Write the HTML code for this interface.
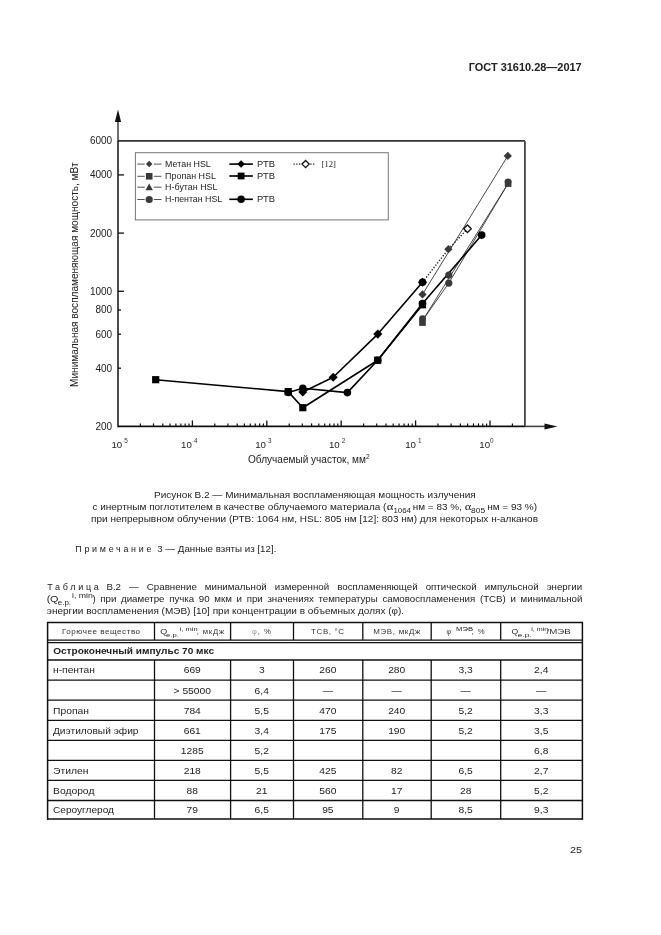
<!DOCTYPE html>
<html><head><meta charset="utf-8"><style>
html,body{margin:0;padding:0;background:#fff;}
body{width:661px;height:935px;overflow:hidden;}
svg{display:block;font-family:"Liberation Sans",sans-serif;filter:grayscale(1);}
</style></head><body>
<svg width="661" height="935" viewBox="0 0 661 935">
<rect width="661" height="935" fill="#fff"/>
<text x="468.70" y="71.20" font-size="10.4" font-weight="bold" fill="#222" textLength="113.00" lengthAdjust="spacingAndGlyphs">ГОСТ 31610.28—2017</text>
<line x1="118.00" y1="140.90" x2="524.90" y2="140.90" stroke="#333" stroke-width="1.8"/>
<line x1="524.90" y1="140.90" x2="524.90" y2="426.40" stroke="#444" stroke-width="1.8"/>
<line x1="118.00" y1="426.40" x2="524.90" y2="426.40" stroke="#111" stroke-width="1.8"/>
<line x1="524.90" y1="426.40" x2="546.00" y2="426.40" stroke="#444" stroke-width="1.6"/>
<polygon points="544.5,423.4 557.5,426.4 544.5,429.6" fill="#111"/>
<line x1="118.00" y1="140.90" x2="118.00" y2="427.20" stroke="#111" stroke-width="1.5"/>
<line x1="118.00" y1="140.90" x2="118.00" y2="121.00" stroke="#222" stroke-width="1.3"/>
<polygon points="114.9,122.0 118,109.4 121.1,122.0" fill="#111"/>
<line x1="140.40" y1="426.40" x2="140.40" y2="423.40" stroke="#111" stroke-width="1.2"/>
<line x1="153.50" y1="426.40" x2="153.50" y2="423.40" stroke="#111" stroke-width="1.2"/>
<line x1="162.79" y1="426.40" x2="162.79" y2="423.40" stroke="#111" stroke-width="1.2"/>
<line x1="170.00" y1="426.40" x2="170.00" y2="423.40" stroke="#111" stroke-width="1.2"/>
<line x1="175.89" y1="426.40" x2="175.89" y2="423.40" stroke="#111" stroke-width="1.2"/>
<line x1="180.88" y1="426.40" x2="180.88" y2="423.40" stroke="#111" stroke-width="1.2"/>
<line x1="185.19" y1="426.40" x2="185.19" y2="423.40" stroke="#111" stroke-width="1.2"/>
<line x1="189.00" y1="426.40" x2="189.00" y2="423.40" stroke="#111" stroke-width="1.2"/>
<line x1="192.40" y1="426.40" x2="192.40" y2="420.40" stroke="#111" stroke-width="1.3"/>
<line x1="214.80" y1="426.40" x2="214.80" y2="423.40" stroke="#111" stroke-width="1.2"/>
<line x1="227.90" y1="426.40" x2="227.90" y2="423.40" stroke="#111" stroke-width="1.2"/>
<line x1="237.19" y1="426.40" x2="237.19" y2="423.40" stroke="#111" stroke-width="1.2"/>
<line x1="244.40" y1="426.40" x2="244.40" y2="423.40" stroke="#111" stroke-width="1.2"/>
<line x1="250.29" y1="426.40" x2="250.29" y2="423.40" stroke="#111" stroke-width="1.2"/>
<line x1="255.28" y1="426.40" x2="255.28" y2="423.40" stroke="#111" stroke-width="1.2"/>
<line x1="259.59" y1="426.40" x2="259.59" y2="423.40" stroke="#111" stroke-width="1.2"/>
<line x1="263.40" y1="426.40" x2="263.40" y2="423.40" stroke="#111" stroke-width="1.2"/>
<line x1="266.80" y1="426.40" x2="266.80" y2="420.40" stroke="#111" stroke-width="1.3"/>
<line x1="289.20" y1="426.40" x2="289.20" y2="423.40" stroke="#111" stroke-width="1.2"/>
<line x1="302.30" y1="426.40" x2="302.30" y2="423.40" stroke="#111" stroke-width="1.2"/>
<line x1="311.59" y1="426.40" x2="311.59" y2="423.40" stroke="#111" stroke-width="1.2"/>
<line x1="318.80" y1="426.40" x2="318.80" y2="423.40" stroke="#111" stroke-width="1.2"/>
<line x1="324.69" y1="426.40" x2="324.69" y2="423.40" stroke="#111" stroke-width="1.2"/>
<line x1="329.68" y1="426.40" x2="329.68" y2="423.40" stroke="#111" stroke-width="1.2"/>
<line x1="333.99" y1="426.40" x2="333.99" y2="423.40" stroke="#111" stroke-width="1.2"/>
<line x1="337.80" y1="426.40" x2="337.80" y2="423.40" stroke="#111" stroke-width="1.2"/>
<line x1="341.20" y1="426.40" x2="341.20" y2="420.40" stroke="#111" stroke-width="1.3"/>
<line x1="363.60" y1="426.40" x2="363.60" y2="423.40" stroke="#111" stroke-width="1.2"/>
<line x1="376.70" y1="426.40" x2="376.70" y2="423.40" stroke="#111" stroke-width="1.2"/>
<line x1="385.99" y1="426.40" x2="385.99" y2="423.40" stroke="#111" stroke-width="1.2"/>
<line x1="393.20" y1="426.40" x2="393.20" y2="423.40" stroke="#111" stroke-width="1.2"/>
<line x1="399.09" y1="426.40" x2="399.09" y2="423.40" stroke="#111" stroke-width="1.2"/>
<line x1="404.08" y1="426.40" x2="404.08" y2="423.40" stroke="#111" stroke-width="1.2"/>
<line x1="408.39" y1="426.40" x2="408.39" y2="423.40" stroke="#111" stroke-width="1.2"/>
<line x1="412.20" y1="426.40" x2="412.20" y2="423.40" stroke="#111" stroke-width="1.2"/>
<line x1="415.60" y1="426.40" x2="415.60" y2="420.40" stroke="#111" stroke-width="1.3"/>
<line x1="438.00" y1="426.40" x2="438.00" y2="423.40" stroke="#111" stroke-width="1.2"/>
<line x1="451.10" y1="426.40" x2="451.10" y2="423.40" stroke="#111" stroke-width="1.2"/>
<line x1="460.39" y1="426.40" x2="460.39" y2="423.40" stroke="#111" stroke-width="1.2"/>
<line x1="467.60" y1="426.40" x2="467.60" y2="423.40" stroke="#111" stroke-width="1.2"/>
<line x1="473.49" y1="426.40" x2="473.49" y2="423.40" stroke="#111" stroke-width="1.2"/>
<line x1="478.48" y1="426.40" x2="478.48" y2="423.40" stroke="#111" stroke-width="1.2"/>
<line x1="482.79" y1="426.40" x2="482.79" y2="423.40" stroke="#111" stroke-width="1.2"/>
<line x1="486.60" y1="426.40" x2="486.60" y2="423.40" stroke="#111" stroke-width="1.2"/>
<line x1="490.00" y1="426.40" x2="490.00" y2="420.40" stroke="#111" stroke-width="1.3"/>
<line x1="512.40" y1="426.40" x2="512.40" y2="423.40" stroke="#111" stroke-width="1.2"/>
<line x1="118.00" y1="368.21" x2="121.00" y2="368.21" stroke="#111" stroke-width="1.3"/>
<line x1="118.00" y1="334.17" x2="121.00" y2="334.17" stroke="#111" stroke-width="1.3"/>
<line x1="118.00" y1="310.02" x2="121.00" y2="310.02" stroke="#111" stroke-width="1.3"/>
<line x1="118.00" y1="291.29" x2="124.00" y2="291.29" stroke="#111" stroke-width="1.3"/>
<line x1="118.00" y1="233.10" x2="124.00" y2="233.10" stroke="#111" stroke-width="1.3"/>
<line x1="118.00" y1="174.91" x2="124.00" y2="174.91" stroke="#111" stroke-width="1.3"/>
<text x="112.20" y="429.85" font-size="10" text-anchor="end" fill="#222">200</text>
<text x="112.20" y="371.66" font-size="10" text-anchor="end" fill="#222">400</text>
<text x="112.20" y="337.62" font-size="10" text-anchor="end" fill="#222">600</text>
<text x="112.20" y="313.47" font-size="10" text-anchor="end" fill="#222">800</text>
<text x="112.20" y="294.74" font-size="10" text-anchor="end" fill="#222">1000</text>
<text x="112.20" y="236.55" font-size="10" text-anchor="end" fill="#222">2000</text>
<text x="112.20" y="178.36" font-size="10" text-anchor="end" fill="#222">4000</text>
<text x="112.20" y="144.32" font-size="10" text-anchor="end" fill="#222">6000</text>
<text x="111.40" y="447.9" font-size="9.7" fill="#222">10<tspan font-size="6.4" dy="-4.9" fill="#333"><tspan fill="#bbb">-</tspan>5</tspan></text>
<text x="181.10" y="447.9" font-size="9.7" fill="#222">10<tspan font-size="6.4" dy="-4.9" fill="#333"><tspan fill="#bbb">-</tspan>4</tspan></text>
<text x="255.20" y="447.9" font-size="9.7" fill="#222">10<tspan font-size="6.4" dy="-4.9" fill="#333"><tspan fill="#bbb">-</tspan>3</tspan></text>
<text x="328.90" y="447.9" font-size="9.7" fill="#222">10<tspan font-size="6.4" dy="-4.9" fill="#333"><tspan fill="#bbb">-</tspan>2</tspan></text>
<text x="405.20" y="447.9" font-size="9.7" fill="#222">10<tspan font-size="6.4" dy="-4.9" fill="#333"><tspan fill="#bbb">-</tspan>1</tspan></text>
<text x="479.30" y="447.9" font-size="9.7" fill="#222">10<tspan font-size="6.4" dy="-4.9" fill="#333">0</tspan></text>
<text x="248.00" y="463.40" font-size="10.2" fill="#222" textLength="117.90" lengthAdjust="spacingAndGlyphs">Облучаемый участок, мм</text>
<text x="365.9" y="458.6" font-size="6.6" fill="#222">2</text>
<text transform="translate(78.3,386.9) rotate(-90)" x="0" y="0" font-size="10.1" fill="#222" textLength="224.4" lengthAdjust="spacingAndGlyphs">Минимальная воспламеняющая мощность, мВт</text>
<rect x="135.4" y="152.7" width="252.9" height="67.2" fill="none" stroke="#777" stroke-width="1"/>
<line x1="137.30" y1="164.10" x2="144.70" y2="164.10" stroke="#555" stroke-width="1.0"/>
<line x1="153.80" y1="164.10" x2="161.50" y2="164.10" stroke="#555" stroke-width="1.0"/>
<polygon points="149.20,160.85 152.45,164.10 149.20,167.35 145.95,164.10" fill="#3a3a3a"/>
<text x="165.10" y="166.90" font-size="8.5" fill="#222" textLength="45.70" lengthAdjust="spacingAndGlyphs">Метан HSL</text>
<line x1="137.30" y1="176.30" x2="144.70" y2="176.30" stroke="#555" stroke-width="1.0"/>
<line x1="153.80" y1="176.30" x2="161.50" y2="176.30" stroke="#555" stroke-width="1.0"/>
<rect x="145.90" y="173.00" width="6.60" height="6.60" fill="#3a3a3a"/>
<text x="165.10" y="179.10" font-size="8.5" fill="#222" textLength="50.80" lengthAdjust="spacingAndGlyphs">Пропан HSL</text>
<line x1="137.30" y1="187.20" x2="144.70" y2="187.20" stroke="#555" stroke-width="1.0"/>
<line x1="153.80" y1="187.20" x2="161.50" y2="187.20" stroke="#555" stroke-width="1.0"/>
<polygon points="149.20,183.48 152.92,190.18 145.48,190.18" fill="#3a3a3a"/>
<text x="165.10" y="190.00" font-size="8.5" fill="#222" textLength="52.40" lengthAdjust="spacingAndGlyphs">Н-бутан HSL</text>
<line x1="137.30" y1="199.50" x2="144.70" y2="199.50" stroke="#555" stroke-width="1.0"/>
<line x1="153.80" y1="199.50" x2="161.50" y2="199.50" stroke="#555" stroke-width="1.0"/>
<circle cx="149.20" cy="199.50" r="3.60" fill="#3a3a3a"/>
<text x="165.10" y="202.30" font-size="8.5" fill="#222" textLength="57.10" lengthAdjust="spacingAndGlyphs">Н-пентан HSL</text>
<line x1="229.30" y1="164.10" x2="236.60" y2="164.10" stroke="#000" stroke-width="1.6"/>
<line x1="245.60" y1="164.10" x2="252.90" y2="164.10" stroke="#000" stroke-width="1.6"/>
<line x1="236.00" y1="164.10" x2="246.00" y2="164.10" stroke="#000" stroke-width="1.6"/>
<polygon points="241.10,160.33 244.87,164.10 241.10,167.87 237.33,164.10" fill="#000"/>
<text x="257.10" y="167.00" font-size="8.5" fill="#222" textLength="17.80" lengthAdjust="spacingAndGlyphs">РТВ</text>
<line x1="229.30" y1="176.00" x2="236.60" y2="176.00" stroke="#000" stroke-width="1.6"/>
<line x1="245.60" y1="176.00" x2="252.90" y2="176.00" stroke="#000" stroke-width="1.6"/>
<line x1="236.00" y1="176.00" x2="246.00" y2="176.00" stroke="#000" stroke-width="1.6"/>
<rect x="237.70" y="172.60" width="6.80" height="6.80" fill="#000"/>
<text x="257.10" y="178.90" font-size="8.5" fill="#222" textLength="17.80" lengthAdjust="spacingAndGlyphs">РТВ</text>
<line x1="229.30" y1="199.30" x2="236.60" y2="199.30" stroke="#000" stroke-width="1.6"/>
<line x1="245.60" y1="199.30" x2="252.90" y2="199.30" stroke="#000" stroke-width="1.6"/>
<line x1="236.00" y1="199.30" x2="246.00" y2="199.30" stroke="#000" stroke-width="1.6"/>
<circle cx="241.10" cy="199.30" r="3.80" fill="#000"/>
<text x="257.10" y="202.20" font-size="8.5" fill="#222" textLength="17.80" lengthAdjust="spacingAndGlyphs">РТВ</text>
<line x1="293.50" y1="164.10" x2="315.90" y2="164.10" stroke="#111" stroke-width="1.2" stroke-dasharray="1.2,1.6"/>
<polygon points="305.60,160.53 309.18,164.10 305.60,167.67 302.03,164.10" fill="#fff" stroke="#111" stroke-width="1.3"/>
<text x="321.60" y="167.30" font-size="9.2" font-family="Liberation Serif" fill="#222" textLength="14.30" lengthAdjust="spacingAndGlyphs">[12]</text>
<polyline points="422.50,294.40 507.80,155.90" fill="none" stroke="#333" stroke-width="0.9" stroke-linejoin="round"/>
<polyline points="422.50,320.50 508.10,183.50" fill="none" stroke="#333" stroke-width="0.9" stroke-linejoin="round"/>
<polyline points="422.50,320.50 448.80,283.10 508.10,183.50" fill="none" stroke="#333" stroke-width="0.9" stroke-linejoin="round"/>
<polyline points="422.50,282.20 448.40,249.20 467.50,228.80" fill="none" stroke="#111" stroke-width="1.3" stroke-linejoin="round" stroke-dasharray="1.3,1.7"/>
<polyline points="155.70,379.70 288.20,391.60 302.80,407.70 377.70,360.20 422.50,304.80" fill="none" stroke="#000" stroke-width="1.6" stroke-linejoin="round"/>
<polyline points="288.20,392.50 302.80,388.20 347.40,392.60 377.70,360.20 422.50,303.50 481.70,235.10" fill="none" stroke="#000" stroke-width="1.6" stroke-linejoin="round"/>
<polyline points="302.80,392.00 333.20,377.30 377.80,334.10 422.50,282.20" fill="none" stroke="#000" stroke-width="1.6" stroke-linejoin="round"/>
<polygon points="422.50,290.24 426.66,294.40 422.50,298.56 418.34,294.40" fill="#3a3a3a"/>
<polygon points="448.40,245.04 452.56,249.20 448.40,253.36 444.24,249.20" fill="#3a3a3a"/>
<polygon points="507.80,151.74 511.96,155.90 507.80,160.06 503.64,155.90" fill="#3a3a3a"/>
<circle cx="422.50" cy="318.60" r="3.40" fill="#3a3a3a"/>
<rect x="419.20" y="319.30" width="6.60" height="6.60" fill="#3a3a3a"/>
<circle cx="448.80" cy="275.10" r="3.60" fill="#3a3a3a"/>
<circle cx="448.80" cy="283.10" r="3.60" fill="#3a3a3a"/>
<circle cx="508.10" cy="181.80" r="3.40" fill="#3a3a3a"/>
<rect x="504.80" y="180.30" width="6.60" height="6.60" fill="#3a3a3a"/>
<rect x="152.10" y="376.10" width="7.20" height="7.20" fill="#000"/>
<rect x="284.60" y="388.00" width="7.20" height="7.20" fill="#000"/>
<rect x="299.20" y="404.10" width="7.20" height="7.20" fill="#000"/>
<rect x="374.10" y="356.60" width="7.20" height="7.20" fill="#000"/>
<rect x="418.90" y="301.20" width="7.20" height="7.20" fill="#000"/>
<circle cx="288.20" cy="392.50" r="3.80" fill="#000"/>
<circle cx="302.80" cy="388.20" r="3.80" fill="#000"/>
<circle cx="347.40" cy="392.60" r="3.80" fill="#000"/>
<circle cx="377.70" cy="360.20" r="3.80" fill="#000"/>
<circle cx="422.50" cy="303.50" r="3.80" fill="#000"/>
<circle cx="481.70" cy="235.10" r="3.80" fill="#000"/>
<polygon points="302.80,387.45 307.35,392.00 302.80,396.55 298.25,392.00" fill="#000"/>
<polygon points="333.20,372.75 337.75,377.30 333.20,381.85 328.65,377.30" fill="#000"/>
<polygon points="377.80,329.55 382.35,334.10 377.80,338.65 373.25,334.10" fill="#000"/>
<polygon points="422.50,277.65 427.05,282.20 422.50,286.75 417.95,282.20" fill="#000"/>
<polygon points="467.50,225.03 471.27,228.80 467.50,232.57 463.73,228.80" fill="#fff" stroke="#111" stroke-width="1.3"/>
<circle cx="422.50" cy="282.20" r="3.80" fill="#000"/>
<text x="154.10" y="498.00" font-size="9.2" fill="#222" textLength="321.70" lengthAdjust="spacingAndGlyphs">Рисунок В.2 — Минимальная воспламеняющая мощность излучения</text>
<text x="92.40" y="509.90" font-size="9.2" fill="#222" textLength="294.00" lengthAdjust="spacingAndGlyphs">с инертным поглотителем в качестве облучаемого материала (</text>
<text x="386.80" y="510.00" font-size="10.4" font-family="Liberation Serif" fill="#222" textLength="6.70" lengthAdjust="spacingAndGlyphs">α</text>
<text x="393.50" y="512.60" font-size="7.2" fill="#222" textLength="17.50" lengthAdjust="spacingAndGlyphs">1064</text>
<text x="412.80" y="509.90" font-size="9.2" fill="#222" textLength="49.00" lengthAdjust="spacingAndGlyphs">нм = 83 %,</text>
<text x="464.80" y="510.00" font-size="10.4" font-family="Liberation Serif" fill="#222" textLength="6.60" lengthAdjust="spacingAndGlyphs">α</text>
<text x="471.00" y="512.60" font-size="7.2" fill="#222" textLength="14.10" lengthAdjust="spacingAndGlyphs">805</text>
<text x="487.20" y="509.90" font-size="9.2" fill="#222" textLength="49.90" lengthAdjust="spacingAndGlyphs">нм = 93 %)</text>
<text x="91.10" y="521.60" font-size="9.2" fill="#222" textLength="446.90" lengthAdjust="spacingAndGlyphs">при непрерывном облучении (РТВ: 1064 нм, HSL: 805 нм [12]: 803 нм) для некоторых н-алканов</text>
<text x="75.30" y="551.60" font-size="8.9" fill="#222" textLength="76.10" lengthAdjust="spacing">Примечание</text>
<text x="157.20" y="551.60" font-size="8.9" fill="#222" textLength="119.20" lengthAdjust="spacingAndGlyphs">3 — Данные взяты из [12].</text>
<text x="47.20" y="589.80" font-size="9.0" fill="#222" textLength="51.60" lengthAdjust="spacing">Таблица</text>
<text transform="translate(106.40,589.80) scale(1.08,1)" font-size="9.0" fill="#222" word-spacing="4.987">В.2 — Сравнение минимальной измеренной воспламеняющей оптической импульсной энергии</text>
<text x="46.80" y="601.80" font-size="9.0" fill="#222" textLength="3.60" lengthAdjust="spacingAndGlyphs">(</text>
<text x="50.00" y="601.80" font-size="9.0" fill="#222" textLength="8.40" lengthAdjust="spacingAndGlyphs">Q</text>
<text x="57.70" y="605.00" font-size="6.4" fill="#222" textLength="13.40" lengthAdjust="spacingAndGlyphs">e.p.</text>
<text x="72.10" y="597.60" font-size="6.4" fill="#222" textLength="20.80" lengthAdjust="spacingAndGlyphs">i, min</text>
<text transform="translate(92.40,601.80) scale(1.08,1)" font-size="9.0" fill="#222" word-spacing="1.807">) при диаметре пучка 90 мкм и при значениях температуры самовоспламенения (ТСВ) и минимальной</text>
<text x="46.80" y="613.80" font-size="9.0" fill="#222" textLength="357.30" lengthAdjust="spacingAndGlyphs">энергии воспламенения (МЭВ) [10] при концентрации в объемных долях (φ).</text>
<line x1="47.60" y1="622.60" x2="582.40" y2="622.60" stroke="#111" stroke-width="1.5"/>
<line x1="47.60" y1="621.85" x2="47.60" y2="819.85" stroke="#111" stroke-width="1.5"/>
<line x1="582.40" y1="621.85" x2="582.40" y2="819.85" stroke="#111" stroke-width="1.5"/>
<line x1="47.60" y1="819.10" x2="582.40" y2="819.10" stroke="#111" stroke-width="1.5"/>
<line x1="47.60" y1="640.10" x2="582.40" y2="640.10" stroke="#111" stroke-width="1.3"/>
<line x1="47.60" y1="642.60" x2="582.40" y2="642.60" stroke="#111" stroke-width="1.3"/>
<line x1="154.50" y1="622.60" x2="154.50" y2="640.10" stroke="#111" stroke-width="1.3"/>
<line x1="230.60" y1="622.60" x2="230.60" y2="640.10" stroke="#111" stroke-width="1.3"/>
<line x1="293.50" y1="622.60" x2="293.50" y2="640.10" stroke="#111" stroke-width="1.3"/>
<line x1="362.80" y1="622.60" x2="362.80" y2="640.10" stroke="#111" stroke-width="1.3"/>
<line x1="431.20" y1="622.60" x2="431.20" y2="640.10" stroke="#111" stroke-width="1.3"/>
<line x1="500.70" y1="622.60" x2="500.70" y2="640.10" stroke="#111" stroke-width="1.3"/>
<line x1="47.60" y1="660.00" x2="582.40" y2="660.00" stroke="#111" stroke-width="1.3"/>
<line x1="47.60" y1="680.10" x2="582.40" y2="680.10" stroke="#111" stroke-width="1.3"/>
<line x1="47.60" y1="700.20" x2="582.40" y2="700.20" stroke="#111" stroke-width="1.3"/>
<line x1="47.60" y1="720.30" x2="582.40" y2="720.30" stroke="#111" stroke-width="1.3"/>
<line x1="47.60" y1="740.30" x2="582.40" y2="740.30" stroke="#111" stroke-width="1.3"/>
<line x1="47.60" y1="760.30" x2="582.40" y2="760.30" stroke="#111" stroke-width="1.3"/>
<line x1="47.60" y1="780.40" x2="582.40" y2="780.40" stroke="#111" stroke-width="1.3"/>
<line x1="47.60" y1="800.50" x2="582.40" y2="800.50" stroke="#111" stroke-width="1.3"/>
<line x1="154.50" y1="660.00" x2="154.50" y2="819.10" stroke="#111" stroke-width="1.3"/>
<line x1="230.60" y1="660.00" x2="230.60" y2="819.10" stroke="#111" stroke-width="1.3"/>
<line x1="293.50" y1="660.00" x2="293.50" y2="819.10" stroke="#111" stroke-width="1.3"/>
<line x1="362.80" y1="660.00" x2="362.80" y2="819.10" stroke="#111" stroke-width="1.3"/>
<line x1="431.20" y1="660.00" x2="431.20" y2="819.10" stroke="#111" stroke-width="1.3"/>
<line x1="500.70" y1="660.00" x2="500.70" y2="819.10" stroke="#111" stroke-width="1.3"/>
<text transform="translate(61.90,633.80) scale(1.12,1)" font-size="7.2" fill="#333" textLength="69.82" lengthAdjust="spacing">Горючее вещество</text>
<text x="160.20" y="633.60" font-size="7.0" fill="#222" textLength="7.00" lengthAdjust="spacingAndGlyphs">Q</text>
<text x="166.00" y="636.60" font-size="5.4" fill="#222" textLength="12.80" lengthAdjust="spacingAndGlyphs">e.p.</text>
<text x="179.60" y="630.70" font-size="5.4" fill="#222" textLength="18.00" lengthAdjust="spacingAndGlyphs">i, min</text>
<text transform="translate(196.80,633.60) scale(1.1,1)" font-size="7.0" fill="#333" textLength="24.91" lengthAdjust="spacing">, мкДж</text>
<text x="251.90" y="633.80" font-size="7.0" fill="#999" textLength="4.80" lengthAdjust="spacingAndGlyphs">φ</text>
<text transform="translate(257.80,633.80) scale(1.1,1)" font-size="7.0" fill="#333" textLength="11.82" lengthAdjust="spacing">, %</text>
<text transform="translate(311.10,633.60) scale(1.1,1)" font-size="7.2" fill="#333" textLength="29.91" lengthAdjust="spacing">ТСВ, °С</text>
<text transform="translate(373.20,633.60) scale(1.1,1)" font-size="7.2" fill="#333" textLength="42.82" lengthAdjust="spacing">МЭВ, мкДж</text>
<text x="446.60" y="633.60" font-size="7.0" fill="#444" textLength="7.40" lengthAdjust="spacing">φ</text>
<text x="456.10" y="630.60" font-size="6.0" fill="#222" textLength="16.90" lengthAdjust="spacingAndGlyphs">МЭВ</text>
<text transform="translate(471.60,633.80) scale(1.1,1)" font-size="7.0" fill="#333" textLength="11.91" lengthAdjust="spacing">, %</text>
<text x="511.60" y="633.50" font-size="7.0" fill="#222" textLength="6.70" lengthAdjust="spacingAndGlyphs">Q</text>
<text x="517.70" y="636.80" font-size="5.4" fill="#222" textLength="14.10" lengthAdjust="spacingAndGlyphs">e.p.</text>
<text x="531.20" y="630.50" font-size="5.4" fill="#222" textLength="17.10" lengthAdjust="spacingAndGlyphs">i, min</text>
<text x="546.60" y="633.60" font-size="7.6" fill="#333" textLength="24.20" lengthAdjust="spacingAndGlyphs">/МЭВ</text>
<text x="53.20" y="654.30" font-size="9.0" font-weight="bold" fill="#222" textLength="160.80" lengthAdjust="spacingAndGlyphs">Остроконечный импульс 70 мкс</text>
<text x="53.00" y="673.40" font-size="9.2" fill="#222" textLength="42.00" lengthAdjust="spacingAndGlyphs">н-пентан</text>
<text transform="translate(192.25,673.40) scale(1.06,1)" text-anchor="middle" font-size="9.7" fill="#222">669</text>
<text transform="translate(261.75,673.40) scale(1.06,1)" text-anchor="middle" font-size="9.7" fill="#222">3</text>
<text transform="translate(327.85,673.40) scale(1.06,1)" text-anchor="middle" font-size="9.7" fill="#222">260</text>
<text transform="translate(396.70,673.40) scale(1.06,1)" text-anchor="middle" font-size="9.7" fill="#222">280</text>
<text transform="translate(465.65,673.40) scale(1.06,1)" text-anchor="middle" font-size="9.7" fill="#222">3,3</text>
<text transform="translate(541.25,673.40) scale(1.06,1)" text-anchor="middle" font-size="9.7" fill="#222">2,4</text>
<text transform="translate(192.25,693.50) scale(1.06,1)" text-anchor="middle" font-size="9.7" fill="#222">&gt; 55000</text>
<text transform="translate(261.75,693.50) scale(1.06,1)" text-anchor="middle" font-size="9.7" fill="#222">6,4</text>
<text transform="translate(327.85,693.50) scale(1.06,1)" text-anchor="middle" font-size="9.7" fill="#222">—</text>
<text transform="translate(396.70,693.50) scale(1.06,1)" text-anchor="middle" font-size="9.7" fill="#222">—</text>
<text transform="translate(465.65,693.50) scale(1.06,1)" text-anchor="middle" font-size="9.7" fill="#222">—</text>
<text transform="translate(541.25,693.50) scale(1.06,1)" text-anchor="middle" font-size="9.7" fill="#222">—</text>
<text x="53.00" y="713.60" font-size="9.2" fill="#222" textLength="35.90" lengthAdjust="spacingAndGlyphs">Пропан</text>
<text transform="translate(192.25,713.60) scale(1.06,1)" text-anchor="middle" font-size="9.7" fill="#222">784</text>
<text transform="translate(261.75,713.60) scale(1.06,1)" text-anchor="middle" font-size="9.7" fill="#222">5,5</text>
<text transform="translate(327.85,713.60) scale(1.06,1)" text-anchor="middle" font-size="9.7" fill="#222">470</text>
<text transform="translate(396.70,713.60) scale(1.06,1)" text-anchor="middle" font-size="9.7" fill="#222">240</text>
<text transform="translate(465.65,713.60) scale(1.06,1)" text-anchor="middle" font-size="9.7" fill="#222">5,2</text>
<text transform="translate(541.25,713.60) scale(1.06,1)" text-anchor="middle" font-size="9.7" fill="#222">3,3</text>
<text x="53.00" y="733.70" font-size="9.2" fill="#222" textLength="85.50" lengthAdjust="spacingAndGlyphs">Диэтиловый эфир</text>
<text transform="translate(192.25,733.70) scale(1.06,1)" text-anchor="middle" font-size="9.7" fill="#222">661</text>
<text transform="translate(261.75,733.70) scale(1.06,1)" text-anchor="middle" font-size="9.7" fill="#222">3,4</text>
<text transform="translate(327.85,733.70) scale(1.06,1)" text-anchor="middle" font-size="9.7" fill="#222">175</text>
<text transform="translate(396.70,733.70) scale(1.06,1)" text-anchor="middle" font-size="9.7" fill="#222">190</text>
<text transform="translate(465.65,733.70) scale(1.06,1)" text-anchor="middle" font-size="9.7" fill="#222">5,2</text>
<text transform="translate(541.25,733.70) scale(1.06,1)" text-anchor="middle" font-size="9.7" fill="#222">3,5</text>
<text transform="translate(192.25,753.70) scale(1.06,1)" text-anchor="middle" font-size="9.7" fill="#222">1285</text>
<text transform="translate(261.75,753.70) scale(1.06,1)" text-anchor="middle" font-size="9.7" fill="#222">5,2</text>
<text transform="translate(541.25,753.70) scale(1.06,1)" text-anchor="middle" font-size="9.7" fill="#222">6,8</text>
<text x="53.00" y="773.70" font-size="9.2" fill="#222" textLength="35.60" lengthAdjust="spacingAndGlyphs">Этилен</text>
<text transform="translate(192.25,773.70) scale(1.06,1)" text-anchor="middle" font-size="9.7" fill="#222">218</text>
<text transform="translate(261.75,773.70) scale(1.06,1)" text-anchor="middle" font-size="9.7" fill="#222">5,5</text>
<text transform="translate(327.85,773.70) scale(1.06,1)" text-anchor="middle" font-size="9.7" fill="#222">425</text>
<text transform="translate(396.70,773.70) scale(1.06,1)" text-anchor="middle" font-size="9.7" fill="#222">82</text>
<text transform="translate(465.65,773.70) scale(1.06,1)" text-anchor="middle" font-size="9.7" fill="#222">6,5</text>
<text transform="translate(541.25,773.70) scale(1.06,1)" text-anchor="middle" font-size="9.7" fill="#222">2,7</text>
<text x="53.00" y="793.80" font-size="9.2" fill="#222" textLength="41.40" lengthAdjust="spacingAndGlyphs">Водород</text>
<text transform="translate(192.25,793.80) scale(1.06,1)" text-anchor="middle" font-size="9.7" fill="#222">88</text>
<text transform="translate(261.75,793.80) scale(1.06,1)" text-anchor="middle" font-size="9.7" fill="#222">21</text>
<text transform="translate(327.85,793.80) scale(1.06,1)" text-anchor="middle" font-size="9.7" fill="#222">560</text>
<text transform="translate(396.70,793.80) scale(1.06,1)" text-anchor="middle" font-size="9.7" fill="#222">17</text>
<text transform="translate(465.65,793.80) scale(1.06,1)" text-anchor="middle" font-size="9.7" fill="#222">28</text>
<text transform="translate(541.25,793.80) scale(1.06,1)" text-anchor="middle" font-size="9.7" fill="#222">5,2</text>
<text x="53.00" y="813.10" font-size="9.2" fill="#222" textLength="61.00" lengthAdjust="spacingAndGlyphs">Сероуглерод</text>
<text transform="translate(192.25,813.10) scale(1.06,1)" text-anchor="middle" font-size="9.7" fill="#222">79</text>
<text transform="translate(261.75,813.10) scale(1.06,1)" text-anchor="middle" font-size="9.7" fill="#222">6,5</text>
<text transform="translate(327.85,813.10) scale(1.06,1)" text-anchor="middle" font-size="9.7" fill="#222">95</text>
<text transform="translate(396.70,813.10) scale(1.06,1)" text-anchor="middle" font-size="9.7" fill="#222">9</text>
<text transform="translate(465.65,813.10) scale(1.06,1)" text-anchor="middle" font-size="9.7" fill="#222">8,5</text>
<text transform="translate(541.25,813.10) scale(1.06,1)" text-anchor="middle" font-size="9.7" fill="#222">9,3</text>
<text x="570.00" y="852.80" font-size="9.8" fill="#222" textLength="12.10" lengthAdjust="spacingAndGlyphs">25</text>
</svg>
</body></html>
